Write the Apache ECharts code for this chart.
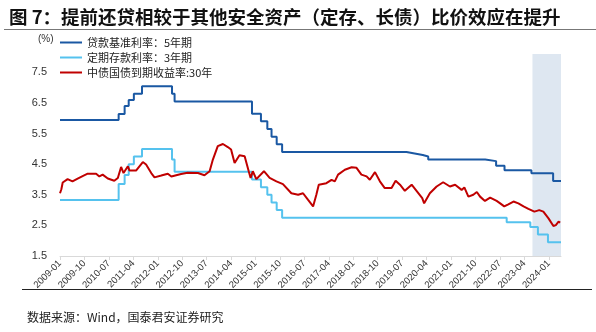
<!DOCTYPE html>
<html>
<head>
<meta charset="utf-8">
<script src="https://cdn.jsdelivr.net/npm/echarts@6/dist/echarts.min.js"></script>
<style>
html,body{margin:0;padding:0;background:#fff;}
#c{width:596px;height:332px;}
</style>
</head>
<body>
<div id="c"></div>
<script>
// ---- data ----
// x positions are months since 2009-01 (fractional)
var seriesNames = ['贷款基准利率：5年期', '定期存款利率：3年期', '中债国债到期收益率:30年'];

var loanMonth = [0, 21.6, 23.8, 25.3, 27.2, 30.2, 41.25, 42.2, 70.7, 74.0, 76.35, 77.9, 79.8, 81.8, 127.6, 130.6, 133.6, 135.6, 156.6, 160.6, 163.7, 173.6, 181.6, 184.5];
var loanRate  = [5.94, 6.14, 6.40, 6.60, 6.80, 7.05, 6.80, 6.55, 6.15, 5.90, 5.65, 5.40, 5.15, 4.90, 4.85, 4.80, 4.75, 4.65, 4.60, 4.45, 4.30, 4.20, 3.95, 3.95];

var depositMonth = [0, 21.6, 23.8, 25.3, 27.2, 30.2, 41.25, 42.2, 70.7, 74.0, 76.35, 77.9, 79.8, 81.8, 164.5, 173.2, 176.0, 179.7, 184.5];
var depositRate  = [3.33, 3.85, 4.15, 4.50, 4.75, 5.00, 4.65, 4.25, 4.00, 3.75, 3.50, 3.25, 3.00, 2.75, 2.60, 2.45, 2.20, 1.95, 1.95];

var bondMonth = [0, 0.5, 1, 2.8, 4.6, 6.5, 8.5, 10.2, 13.3, 14.5, 15.7, 17.6, 20, 21.3, 22.5, 23.4, 25, 25.6, 28, 30.5, 31.7, 33.6, 34.8, 37.3, 39.7, 41, 44.6, 47, 50.8, 53.2, 55.1, 56.3, 58.1, 60, 61.8, 63, 64.3, 66.1, 68, 69.5, 70.2, 71, 72.3, 75.1, 77.2, 79.7, 82.1, 85.2, 87.7, 89.5, 91.3, 93.2, 94.4, 95.3, 98.1, 100, 101.2, 102.4, 104.9, 107.4, 109.2, 111, 112.9, 114.1, 116, 117.8, 119.6, 122.1, 123.6, 125.2, 127, 129.5, 131.3, 133.4, 134.1, 136.2, 138.7, 141.1, 143.6, 145.5, 147.9, 148.9, 150.4, 152.2, 153.5, 154.7, 156.5, 158.4, 160.8, 162.1, 163.6, 165.1, 167, 168.8, 170.7, 172.5, 174.7, 176.5, 178, 179.9, 181.7, 182.6, 183.6, 184.2];
var bondYield = [3.55, 3.68, 3.90, 4.01, 3.94, 4.03, 4.12, 4.19, 4.19, 4.10, 4.16, 4.03, 3.96, 4.05, 4.41, 4.21, 4.43, 4.29, 4.29, 4.57, 4.49, 4.21, 4.07, 4.13, 4.19, 4.10, 4.18, 4.22, 4.21, 4.14, 4.27, 4.65, 5.09, 5.16, 5.06, 4.98, 4.54, 4.79, 4.76, 4.27, 4.05, 4.27, 4.01, 4.27, 4.05, 3.94, 3.85, 3.55, 3.50, 3.55, 3.34, 3.12, 3.50, 3.83, 3.88, 3.99, 3.94, 4.16, 4.32, 4.40, 4.38, 4.16, 4.10, 3.99, 4.24, 3.94, 3.72, 3.72, 3.96, 3.83, 3.63, 3.83, 3.63, 3.39, 3.22, 3.55, 3.77, 3.91, 3.77, 3.83, 3.66, 3.74, 3.44, 3.50, 3.59, 3.44, 3.30, 3.41, 3.30, 3.22, 3.12, 3.19, 3.28, 3.22, 3.12, 3.04, 2.95, 3.00, 2.95, 2.73, 2.48, 2.51, 2.62, 2.59];

var xTicks = [0, 9, 18, 27, 36, 45, 54, 63, 72, 81, 90, 99, 108, 117, 126, 135, 144, 153, 162, 171, 180];
var yTicks = [1.5, 2.5, 3.5, 4.5, 5.5, 6.5, 7.5];
var shadeStart = 174, xMax = 184.5;

function pairs(xs, ys){ return xs.map(function(x,i){ return [x, ys[i]]; }); }
function monthLabel(m){
  var y = 2009 + Math.floor(m/12), mm = (m % 12) + 1;
  return y + '-' + (mm < 10 ? '0' + mm : '' + mm);
}

var chart = echarts.init(document.getElementById('c'), null, {renderer:'canvas'});
var CJK = '"Noto Sans CJK SC", sans-serif';
chart.setOption({
  animation: false,
  backgroundColor: '#fff',
  title: {
    text: '图 7：提前还贷相较于其他安全资产（定存、长债）比价效应在提升',
    left: 4, top: 3,
    textStyle: {fontSize: 18.5, fontWeight: 'bold', color: '#111', fontFamily: CJK}
  },
  graphic: [
    {type:'line', shape:{x1:4, y1:29.5, x2:596, y2:29.5}, style:{stroke:'#777', lineWidth:1}},
    {type:'line', shape:{x1:22, y1:289.5, x2:592, y2:289.5}, style:{stroke:'#222', lineWidth:1}},
    {type:'text', left: 27, top: 311, style:{text:'数据来源：Wind，国泰君安证券研究', font:'12px "Noto Sans CJK SC"', fill:'#222'}},
    {type:'text', left: 38, top: 34, style:{text:'(%)', font:'10px "Liberation Sans"', fill:'#333'}}
  ],
  legend: {
    data: seriesNames,
    orient: 'vertical',
    left: 60, top: 37, padding: 0,
    itemWidth: 22, itemHeight: 2, itemGap: 4,
    icon: 'rect',
    textStyle: {fontSize: 11, color: '#222', fontFamily: CJK}
  },
  grid: {left: 60, right: 35, top: 54, bottom: 76},
  xAxis: {
    type: 'value', min: 0, max: xMax, interval: 9,
    splitLine: {show:false},
    axisLine: {show:true, lineStyle:{color:'#d9d9d9', width:1}},
    axisTick: {show:true, length:4, lineStyle:{color:'#d9d9d9'}, customValues: xTicks},
    axisLabel: {rotate: 45, fontSize: 9.5, color:'#333', fontFamily:'"Liberation Sans", sans-serif',
      customValues: xTicks, formatter: function(v){ return monthLabel(Math.round(v)); }, margin: 6}
  },
  yAxis: {
    type: 'value', min: 1.5, max: 8.1, interval: 1,
    splitLine: {show:false},
    axisLine: {show:false}, axisTick: {show:false},
    axisLabel: {fontSize: 11, color:'#333', fontFamily:'"Liberation Sans", sans-serif', margin: 13,
      customValues: yTicks, formatter: function(v){ return v.toFixed(1); }}
  },
  series: [
    {name: seriesNames[0], type:'line', step:'end', showSymbol:false, symbol:'none', z:2,
     data: pairs(loanMonth, loanRate), lineStyle:{color:'#1A58A3', width:2}, itemStyle:{color:'#1A58A3'}},
    {name: seriesNames[1], type:'line', step:'end', showSymbol:false, symbol:'none', z:2,
     data: pairs(depositMonth, depositRate), lineStyle:{color:'#55C2EE', width:2}, itemStyle:{color:'#55C2EE'}},
    {name: seriesNames[2], type:'line', showSymbol:false, symbol:'none', z:3,
     data: pairs(bondMonth, bondYield), lineStyle:{color:'#C00000', width:2}, itemStyle:{color:'#C00000'}},
    {name: 'shade', type:'line', data: [[shadeStart, 5]], symbol:'none', showSymbol:false, z:5,
     lineStyle:{opacity:0}, silent:true,
     markArea: {silent:true, itemStyle:{color:'rgba(190,208,228,0.5)'},
       data: [[{xAxis: shadeStart, yAxis: 1.5}, {xAxis: xMax, yAxis: 8.1}]]}}
  ]
});
</script>
</body>
</html>
